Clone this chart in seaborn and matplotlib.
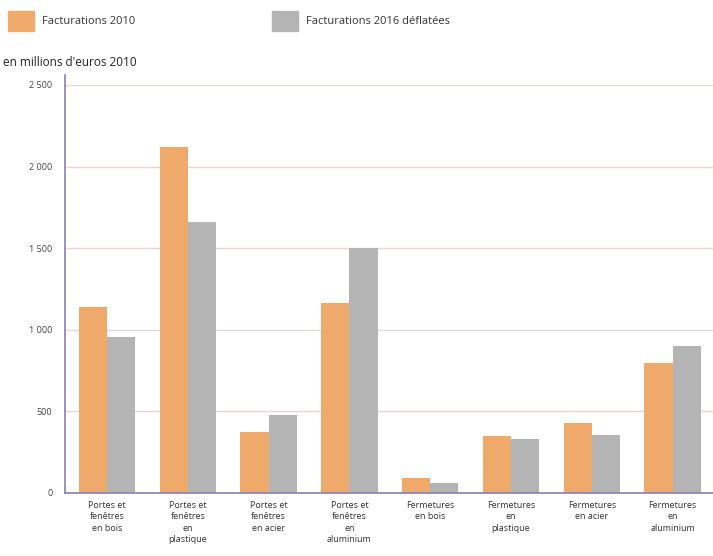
import matplotlib
matplotlib.use("Agg")
import matplotlib.pyplot as plt
import seaborn as sns
import pandas as pd

categories = ["Portes et\nfenêtres\nen bois", "Portes et\nfenêtres\nen\nplastique",
              "Portes et\nfenêtres\nen acier", "Portes et\nfenêtres\nen\naluminium",
              "Fermetures\nen bois", "Fermetures\nen\nplastique",
              "Fermetures\nen acier", "Fermetures\nen\naluminium"]
fact_2010 = [1140, 2122, 376, 1166, 90, 349, 431, 795]
fact_2016 = [958, 1662, 478, 1499, 59, 329, 355, 902]
series = ["Facturations 2010", "Facturations 2016 déflatées"]
yticks = [0, 500, 1000, 1500, 2000, 2500]
ytick_labels = ["0", "500", "1 000", "1 500", "2 000", "2 500"]

df = pd.DataFrame({
    "cat": categories * 2,
    "val": fact_2010 + fact_2016,
    "serie": [series[0]] * len(categories) + [series[1]] * len(categories),
})

sns.set_style("white")
plt.rcParams['font.family'] = ['Open Sans', 'DejaVu Sans']
colors = ["#efa96a", "#b4b4b4"]

fig = plt.figure(figsize=(7.13, 5.56), dpi=100)
ax = fig.add_axes([65/713, 1 - 493/556, (713-65)/713, (493-85)/556])
sns.barplot(data=df, x="cat", y="val", hue="serie", palette=colors, ax=ax,
            width=0.7, gap=0, saturation=1, legend=False, linewidth=0)
ax.set_ylim(0, 2500)
ax.set_xlim(-0.52, 7.5)
ax.set_yticks(yticks)
ax.set_yticklabels(ytick_labels, fontsize=6.5, color="#444444")
ax.set_xticks(range(len(categories)))
ax.set_xticklabels(categories, fontsize=6.5, color="#333333", linespacing=1.3)
ax.tick_params(axis="y", length=3, color="#8a7fb0", pad=6)
ax.tick_params(axis="x", length=0, pad=6)
ax.set_xlabel("")
ax.set_ylabel("")
ax.yaxis.grid(True, color="#e6d6d2", linewidth=1)
ax.set_axisbelow(True)
for s in ["top", "right"]:
    ax.spines[s].set_visible(False)
ax.spines["left"].set_color("#8a7fb0")
ax.spines["bottom"].set_color("#8a7fb0")
ax.spines["left"].set_linewidth(1.2)
ax.spines["bottom"].set_linewidth(1.2)
ax.spines["left"].set_bounds(0, 2560)
ax.spines["left"].set_clip_on(False)

# legend
fig.patches.append(plt.Rectangle((8/713, 1 - 31/556), 26/713, 20/556,
                                 transform=fig.transFigure, color=colors[0]))
fig.text(42/713, 1 - 21/556, series[0], fontsize=8, va="center", color="#333333")
fig.patches.append(plt.Rectangle((272/713, 1 - 31/556), 26/713, 20/556,
                                 transform=fig.transFigure, color=colors[1]))
fig.text(306/713, 1 - 21/556, series[1], fontsize=8, va="center", color="#333333")
fig.text(3/713, 1 - 63/556, "en millions d'euros 2010", fontsize=8.5, va="center", color="#222222")

fig.savefig("out.png", dpi=100)
